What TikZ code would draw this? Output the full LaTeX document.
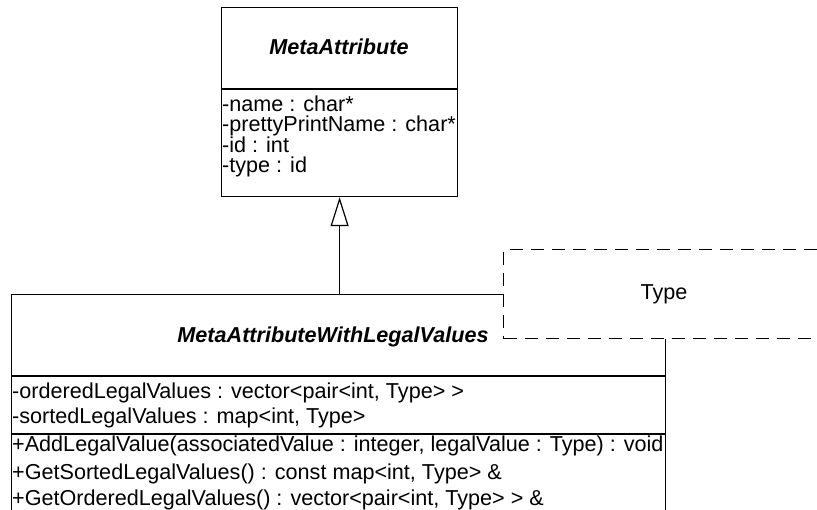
\documentclass[tikz,border=0pt]{standalone}
\usepackage{fontspec}
\setmainfont{Liberation Sans}
\usetikzlibrary{arrows.meta}
\newcommand{\umlfont}{\fontsize{21.6}{25}\selectfont}
\tikzset{
  outline/.style={draw=black, line width=1.2pt},
  classbox/.style={outline, fill=white, inner sep=0pt},
  divider/.style={outline},
  member/.style={anchor=base west, inner sep=0pt, font=\umlfont},
  classname/.style={anchor=base, inner sep=0pt, font=\umlfont\bfseries\itshape},
  tparam/.style={draw=black, line width=1.2pt, dash pattern=on 13pt off 8pt, fill=white, inner sep=0pt},
  generalization/.style={outline, -{Triangle[open, length=29pt, width=18pt, line width=1.2pt]}}
}
\begin{document}
\begin{tikzpicture}[x=1pt, y=-1pt]
  \useasboundingbox (0,0) rectangle (817,510);

  % abstract base class
  \node[classbox, minimum width=236pt, minimum height=189pt, anchor=north west] (base) at (221,7) {};
  \node[classname] (baseName) at (339,55) {MetaAttribute};
  \draw[divider] (221,89) -- (457,89);
  \node[member] (a1) at (222,112) {-name : char*};
  \node[member] (a2) at (222,132) {-prettyPrintName : char*};
  \node[member] (a3) at (222,153) {-id : int};
  \node[member] (a4) at (222,173) {-type : id};

  % templated derived class
  \node[classbox, minimum width=654pt, minimum height=240pt, anchor=north west] (derived) at (11,294) {};
  \node[classname] (derivedName) at (333,343) {MetaAttributeWithLegalValues};
  \draw[divider] (11,376) -- (665,376);
  \node[member] (b1) at (12,399) {-orderedLegalValues : vector<pair<int, Type> >};
  \node[member] (b2) at (12,424) {-sortedLegalValues : map<int, Type>};
  \draw[divider] (11,434) -- (665,434);
  \node[member] (m1) at (12,452) {+AddLegalValue(associatedValue : integer, legalValue : Type) : void};
  \node[member] (m2) at (12,479) {+GetSortedLegalValues() : const map<int, Type> \&};
  \node[member] (m3) at (12,506) {+GetOrderedLegalValues() : vector<pair<int, Type> > \&};

  % template parameter box over the corner
  \node[tparam, minimum width=322pt, minimum height=89pt, anchor=north west] (tpl) at (503,249) {};
  \node[inner sep=0pt, anchor=base, font=\umlfont] (tplName) at (664,300) {Type};

  % inheritance
  \draw[generalization] (base.south |- derived.north) -- (base.south);
\end{tikzpicture}
\end{document}
